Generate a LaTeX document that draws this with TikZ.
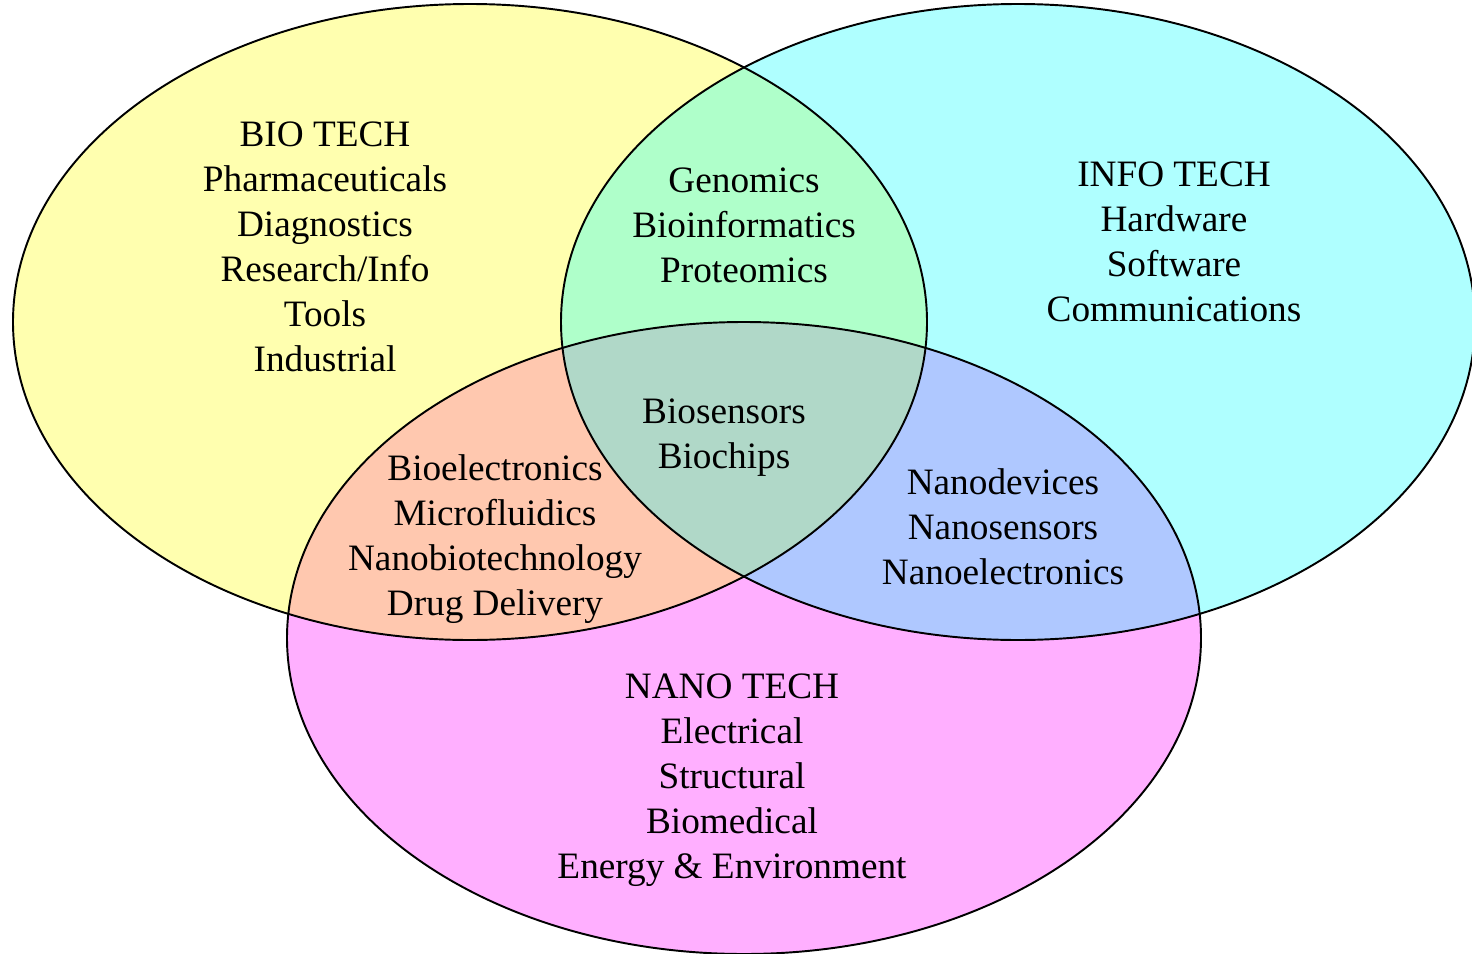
\documentclass[tikz,border=0pt]{standalone}
\usepackage{fontspec}
\setmainfont{Liberation Serif}
\usepackage{xcolor}
\usepackage{tikz}

\definecolor{bioyellow}{HTML}{FFFFAF}
\definecolor{infocyan}{HTML}{AFFFFF}
\definecolor{nanopink}{HTML}{FFAFFF}
\definecolor{bioinfo}{HTML}{AFFFCA}
\definecolor{bionano}{HTML}{FFC8AF}
\definecolor{infonano}{HTML}{AFC8FF}
\definecolor{allthree}{HTML}{B0D8C8}

\begin{document}
\begin{tikzpicture}[
    area/.style={align=center, font=\fontsize{21.2}{25.6}\selectfont},
    rim/.style={draw=black, line width=1.1pt}
]
    \useasboundingbox (0,0) rectangle (29.44,-19.08);
    \def\bioshape{(9.40,-6.44) ellipse [x radius=9.14, y radius=6.36]}
    \def\infoshape{(20.36,-6.44) ellipse [x radius=9.14, y radius=6.36]}
    \def\nanoshape{(14.88,-12.76) ellipse [x radius=9.14, y radius=6.32]}

    % Fills
    \fill[bioyellow] \bioshape;
    \fill[infocyan] \infoshape;
    \fill[nanopink] \nanoshape;
    \begin{scope}
        \clip \bioshape;
        \fill[bioinfo] \infoshape;
        \fill[bionano] \nanoshape;
    \end{scope}
    \begin{scope}
        \clip \infoshape;
        \fill[infonano] \nanoshape;
    \end{scope}
    \begin{scope}
        \clip \bioshape;
        \clip \infoshape;
        \fill[allthree] \nanoshape;
    \end{scope}

    % Outlines
    \draw[rim] \bioshape;
    \draw[rim] \infoshape;
    \draw[rim] \nanoshape;

    % Labels
    \node[area] (bio) at (6.50,-4.93) {BIO TECH\\Pharmaceuticals\\Diagnostics\\Research/Info\\Tools\\Industrial};
    \node[area] (info) at (23.48,-4.83) {INFO TECH\\Hardware\\Software\\Communications};
    \node[area] (nano) at (14.64,-15.60) {NANO TECH\\Electrical\\Structural\\Biomedical\\Energy \& Environment};
    \node[area] (bioinfo) at (14.88,-4.50) {Genomics\\Bioinformatics\\Proteomics};
    \node[area] (bionano) at (9.90,-10.79) {Bioelectronics\\Microfluidics\\Nanobiotechnology\\Drug Delivery};
    \node[area] (infonano) at (20.06,-10.54) {Nanodevices\\Nanosensors\\Nanoelectronics};
    \node[area] (core) at (14.48,-8.75) {Biosensors\\Biochips};
\end{tikzpicture}
\end{document}
